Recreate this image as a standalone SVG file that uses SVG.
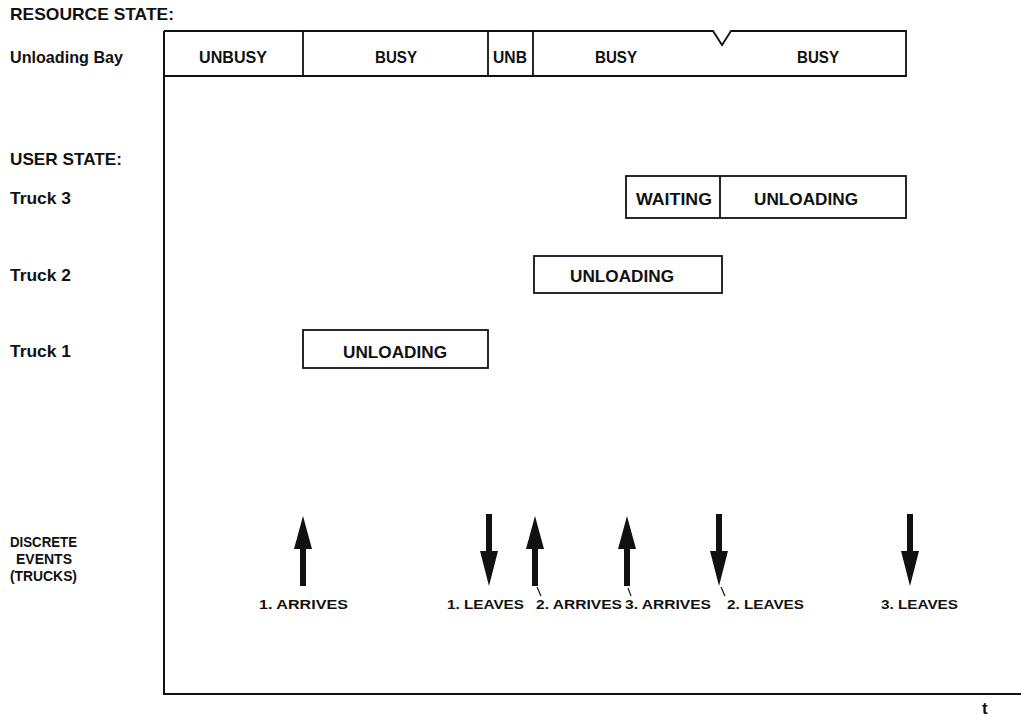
<svg xmlns="http://www.w3.org/2000/svg" width="1021" height="718" viewBox="0 0 1021 718">
<style>
.lbl{font-family:"Liberation Sans",Arial,sans-serif;font-weight:bold;font-size:17px;fill:#111}
.lbs{font-family:"Liberation Sans",Arial,sans-serif;font-weight:bold;font-size:15px;fill:#111}
.box{fill:none;stroke:#111;stroke-width:1.8}
.in{font-family:"Liberation Sans",Arial,sans-serif;font-weight:bold;font-size:17px;fill:#111;text-anchor:middle}
.ev{font-family:"Liberation Sans",Arial,sans-serif;font-weight:bold;font-size:13.5px;fill:#111}
.axis{stroke:#111;stroke-width:2;fill:none}
.arr{fill:#111}
.tick{stroke:#111;stroke-width:1.2}
</style>
<rect width="1021" height="718" fill="#fff"/>
<g id="labels">
<text class="lbl" x="10" y="20" textLength="164" lengthAdjust="spacingAndGlyphs">RESOURCE STATE:</text>
<text class="lbl" x="10" y="63" textLength="113" lengthAdjust="spacingAndGlyphs">Unloading Bay</text>
<text class="lbl" x="10" y="165" textLength="112" lengthAdjust="spacingAndGlyphs">USER STATE:</text>
<text class="lbl" x="10" y="204" textLength="61" lengthAdjust="spacingAndGlyphs">Truck 3</text>
<text class="lbl" x="10" y="281" textLength="61" lengthAdjust="spacingAndGlyphs">Truck 2</text>
<text class="lbl" x="10" y="357" textLength="61" lengthAdjust="spacingAndGlyphs">Truck 1</text>
<text class="lbs" x="10" y="547" textLength="67" lengthAdjust="spacingAndGlyphs">DISCRETE</text>
<text class="lbs" x="16" y="564" textLength="56" lengthAdjust="spacingAndGlyphs">EVENTS</text>
<text class="lbs" x="10" y="581" textLength="67" lengthAdjust="spacingAndGlyphs">(TRUCKS)</text>
<text class="lbl" x="982" y="714" font-size="15">t</text>
</g>
<g id="axes">
<path class="axis" d="M164,31 V694 H1021"/>
</g>
<g id="unloading-bay">
<path class="box" d="M164,31 H713 L722,45 L731,31 H906 V76 H164"/>
<line class="box" x1="303" y1="31" x2="303" y2="76"/>
<line class="box" x1="488" y1="31" x2="488" y2="76"/>
<line class="box" x1="533" y1="31" x2="533" y2="76"/>
<text class="in" x="233" y="63" textLength="68" lengthAdjust="spacingAndGlyphs">UNBUSY</text>
<text class="in" x="396" y="63" textLength="42" lengthAdjust="spacingAndGlyphs">BUSY</text>
<text class="in" x="510" y="63" textLength="34" lengthAdjust="spacingAndGlyphs">UNB</text>
<text class="in" x="616" y="63" textLength="42" lengthAdjust="spacingAndGlyphs">BUSY</text>
<text class="in" x="818" y="63" textLength="42" lengthAdjust="spacingAndGlyphs">BUSY</text>
</g>
<g id="truck3">
<rect class="box" x="626" y="176" width="280" height="42"/>
<line class="box" x1="720" y1="176" x2="720" y2="218"/>
<text class="in" x="674" y="205" textLength="76" lengthAdjust="spacingAndGlyphs">WAITING</text>
<text class="in" x="806" y="205" textLength="104" lengthAdjust="spacingAndGlyphs">UNLOADING</text>
</g>
<g id="truck2">
<rect class="box" x="534" y="256" width="188" height="37"/>
<text class="in" x="622" y="282" textLength="104" lengthAdjust="spacingAndGlyphs">UNLOADING</text>
</g>
<g id="truck1">
<rect class="box" x="303" y="330" width="185" height="38"/>
<text class="in" x="395" y="358" textLength="104" lengthAdjust="spacingAndGlyphs">UNLOADING</text>
</g>
<g id="connectors">
<path id="e1a" class="arr" d="M303,516 L312,549 L306,549 L306,586 L300,586 L300,549 L294,549 Z"/>
<path id="e1l" class="arr" d="M486,514 L492,514 L492,551 L498,551 L489,586 L480,551 L486,551 Z"/>
<path id="e2a" class="arr" d="M535,516 L544,549 L538,549 L538,586 L532,586 L532,549 L526,549 Z"/>
<path id="e3a" class="arr" d="M627,516 L636,549 L630,549 L630,586 L624,586 L624,549 L618,549 Z"/>
<path id="e2l" class="arr" d="M716,514 L722,514 L722,551 L728,551 L719,586 L710,551 L716,551 Z"/>
<path id="e3l" class="arr" d="M907,514 L913,514 L913,551 L919,551 L910,586 L901,551 L907,551 Z"/>
<line class="tick" x1="537" y1="587" x2="541" y2="596"/>
<line class="tick" x1="628" y1="588" x2="631" y2="596"/>
<line class="tick" x1="721" y1="587" x2="725" y2="596"/>
</g>
<g id="event-labels">
<text class="ev" x="259" y="609" textLength="89" lengthAdjust="spacingAndGlyphs">1. ARRIVES</text>
<text class="ev" x="447" y="609" textLength="77" lengthAdjust="spacingAndGlyphs">1. LEAVES</text>
<text class="ev" x="536" y="609" textLength="86" lengthAdjust="spacingAndGlyphs">2. ARRIVES</text>
<text class="ev" x="625" y="609" textLength="86" lengthAdjust="spacingAndGlyphs">3. ARRIVES</text>
<text class="ev" x="727" y="609" textLength="77" lengthAdjust="spacingAndGlyphs">2. LEAVES</text>
<text class="ev" x="881" y="609" textLength="77" lengthAdjust="spacingAndGlyphs">3. LEAVES</text>
</g>
</svg>
